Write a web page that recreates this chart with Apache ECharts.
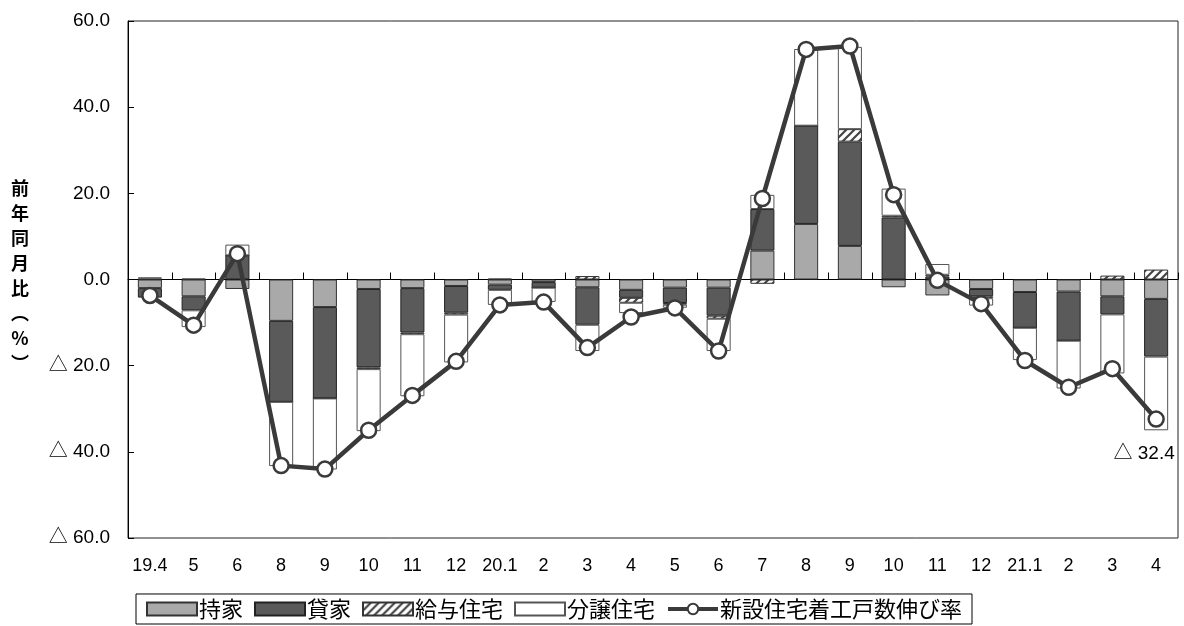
<!DOCTYPE html>
<html>
<head>
<meta charset="utf-8">
<script src="https://cdn.jsdelivr.net/npm/echarts@6/dist/echarts.min.js"></script>
<style>
html,body{margin:0;padding:0;background:#fff;}
#c{width:1184px;height:626px;}
</style>
</head>
<body>
<div id="c"></div>
<script>
var categories = ['19.4','5','6','8','9','10','11','12','20.1','2','3','4','5','6','7','8','9','10','11','12','21.1','2','3','4'];
var mochiie = [-2.0,-3.9,-2.2,-9.6,-6.4,-2.2,-2.0,-1.5,-1.2,-0.6,-1.8,-2.4,-1.9,-1.9,6.7,12.9,7.8,-1.8,-3.7,-2.2,-2.9,-2.8,-3.9,-4.5];
var kashiya = [-2.2,-3.25,5.6,-18.8,-21.2,-18.2,-10.3,-6.2,-1.2,-1.3,-8.7,-1.85,-3.55,-6.5,9.65,22.8,24.2,14.4,0.7,-1.7,-8.3,-11.4,-4.2,-13.4];
var kyuyo = [0.2,0.2,0,0,0,-0.4,-0.4,-0.45,0.2,0,0.8,-1.15,-0.4,-0.7,-1.0,0,2.9,0.4,0.4,-0.45,0,0,0.9,2.3];
var bunjo = [0.3,-3.9,2.5,-14.9,-16.5,-14.4,-14.4,-11.1,-3.5,-3.3,-6.1,-2.4,-0.7,-7.5,3.3,17.8,19.1,6.3,2.5,-1.7,-7.5,-11.1,-13.7,-17.1];
var total = [-3.7,-10.6,6.0,-43.2,-44.0,-35.0,-26.9,-19.0,-5.9,-5.25,-15.8,-8.7,-6.6,-16.6,18.8,53.4,54.2,19.7,-0.2,-5.6,-18.8,-25.0,-20.7,-32.4];
var yTicks = {min:-60, max:60, interval:20};

var FONT = "'Liberation Sans','Noto Sans CJK JP',sans-serif";
var JFONT = "'Noto Sans CJK JP','Liberation Sans',sans-serif";

// hatch pattern
var pc = document.createElement('canvas');
pc.width = 8; pc.height = 8;
var g = pc.getContext('2d');
g.fillStyle = '#fff'; g.fillRect(0,0,8,8);
g.strokeStyle = '#444'; g.lineWidth = 2.2;
g.beginPath();
g.moveTo(0,8); g.lineTo(8,0);
g.moveTo(-4,4); g.lineTo(4,-4);
g.moveTo(4,12); g.lineTo(12,4);
g.stroke();

function fmtY(v){ return v < 0 ? '△ ' + (-v).toFixed(1) : v.toFixed(1); }

var lineData = total.map(function(v,i){
  if (i === total.length-1) {
    return {value:v, label:{show:true, position:'bottom', distance:16, offset:[-12,0],
      formatter:function(p){return fmtY(p.value);}, fontSize:19, color:'#000', fontFamily:FONT}};
  }
  return v;
});

var barCommon = {type:'bar', stack:'s', barWidth:'55%', xAxisIndex:0};
var chart = echarts.init(document.getElementById('c'));
chart.setOption({
  animation:false,
  backgroundColor:'#fff',
  grid:{left:128, right:6, top:21, bottom:88, show:true, borderColor:'#222', borderWidth:1, backgroundColor:'transparent'},
  graphic:[{type:'text', left:11, top:176, style:{text:'前\n年\n同\n月\n比\n︵\n%\n︶', font:'bold 18px '+JFONT, lineHeight:25, fill:'#000', textAlign:'center'}}],
  legend:{
    left:136, bottom:2, borderColor:'#000', borderWidth:1, padding:[4,10,4,10],
    itemWidth:50, itemHeight:13, itemGap:11,
    lineStyle:{width:4},
    textStyle:{fontSize:22, fontFamily:JFONT, color:'#000', padding:[0,0,0,-3]},
    data:[{name:'持家', icon:'rect'},{name:'貸家', icon:'rect'},{name:'給与住宅', icon:'rect'},{name:'分譲住宅', icon:'rect'},'新設住宅着工戸数伸び率']
  },
  xAxis:[
    {type:'category', data:categories, position:'bottom',
     axisLine:{onZero:true, lineStyle:{color:'#000', width:1}},
     axisTick:{show:true, inside:true, length:7, interval:0, lineStyle:{color:'#000'}},
     axisLabel:{show:false}},
    {type:'category', data:categories, position:'bottom', gridIndex:0,
     axisLine:{show:false, onZero:false}, axisTick:{show:false},
     axisLabel:{show:true, interval:0, fontSize:18, color:'#000', fontFamily:FONT, margin:19}}
  ],
  yAxis:{type:'value', min:yTicks.min, max:yTicks.max, interval:yTicks.interval,
    axisLine:{show:true, lineStyle:{color:'#000'}},
    axisTick:{show:true, inside:true, length:6, lineStyle:{color:'#000'}},
    splitLine:{show:false},
    axisLabel:{formatter:fmtY, fontSize:19, color:'#000', fontFamily:FONT, margin:18}},
  series:[
    Object.assign({name:'持家', data:mochiie, itemStyle:{color:'#a9a9a9', borderColor:'#333', borderWidth:1}}, barCommon),
    Object.assign({name:'貸家', data:kashiya, itemStyle:{color:'#5a5a5a', borderColor:'#222', borderWidth:1}}, barCommon),
    Object.assign({name:'給与住宅', data:kyuyo, itemStyle:{color:{image:pc, repeat:'repeat'}, borderColor:'#333', borderWidth:1}}, barCommon),
    Object.assign({name:'分譲住宅', data:bunjo, itemStyle:{color:'#fff', borderColor:'#555', borderWidth:1}}, barCommon),
    {name:'新設住宅着工戸数伸び率', type:'line', data:lineData, xAxisIndex:0, z:10,
     symbol:'circle', symbolSize:15,
     lineStyle:{color:'#3a3a3a', width:4.5},
     itemStyle:{color:'#fff', borderColor:'#3a3a3a', borderWidth:2.5}}
  ]
});
</script>
</body>
</html>
